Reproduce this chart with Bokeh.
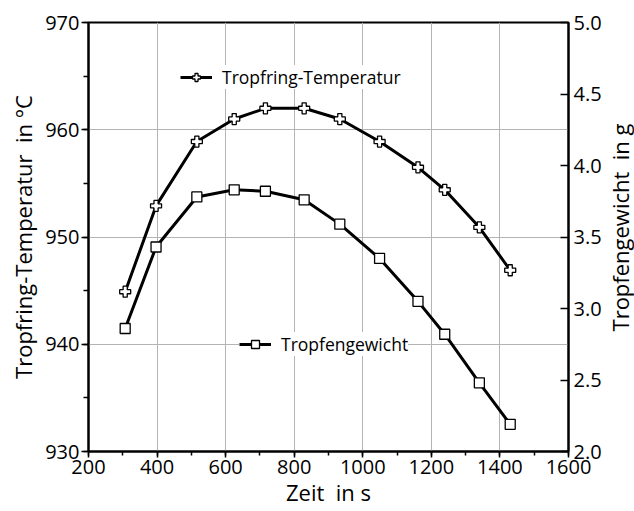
import math
from bokeh.plotting import figure
from bokeh.layouts import row
from bokeh.models import (Range1d, LinearAxis, Legend, LegendItem, SingleIntervalTicker,
                          FixedTicker, PrintfTickFormatter, Label)
from bokeh.embed import file_html
from bokeh.resources import INLINE

# Data
zeit = [307, 397, 516, 625, 716, 829, 933, 1049, 1161, 1239, 1340, 1430]
temperatur = [944.9, 952.9, 958.9, 961.0, 962.0, 962.0, 961.0, 958.9, 956.5, 954.4, 950.9, 946.9]
gewicht = [2.86, 3.43, 3.78, 3.83, 3.82, 3.76, 3.59, 3.35, 3.05, 2.82, 2.48, 2.19]

x_ticks = [200, 400, 600, 800, 1000, 1200, 1400, 1600]
left_ticks = [930, 940, 950, 960, 970]
right_ticks = [2.0, 2.5, 3.0, 3.5, 4.0, 4.5, 5.0]

FONT = "Open Sans"

p = figure(width=604, height=511, output_backend="svg", toolbar_location=None,
           x_range=Range1d(200, 1600), y_range=Range1d(930, 970),
           min_border_left=88, min_border_right=36, min_border_top=22, min_border_bottom=60)
p.extra_y_ranges = {"right": Range1d(2.0, 5.0)}

p.outline_line_color = "black"
p.outline_line_width = 2
p.outline_line_alpha = 1.0
p.background_fill_color = "white"
p.border_fill_color = "white"

# Grid
p.xgrid.ticker = FixedTicker(ticks=x_ticks)
p.ygrid.ticker = FixedTicker(ticks=left_ticks)
for g in (p.xgrid, p.ygrid):
    g.grid_line_color = "#b4b4b4"
    g.grid_line_width = 1

# X axis
xa = p.xaxis[0]
xa.ticker = SingleIntervalTicker(interval=200, num_minor_ticks=2)
xa.axis_label = "Zeit\u00a0 in s"
# Left axis
ya = p.yaxis[0]
ya.ticker = SingleIntervalTicker(interval=10, num_minor_ticks=2)
ya.axis_label = "Tropfring-Temperatur\u00a0 in °C"

# Right axis
ra = LinearAxis(y_range_name="right",
                ticker=FixedTicker(ticks=right_ticks),
                formatter=PrintfTickFormatter(format="%.1f"))
p.add_layout(ra, "right")

for ax in (xa, ya, ra):
    ax.axis_line_color = "black"
    ax.axis_line_width = 2
    ax.major_tick_line_color = "black"
    ax.major_tick_line_width = 1.5
    ax.minor_tick_line_color = "black"
    ax.minor_tick_line_width = 1.5
    ax.major_label_text_font = FONT
    ax.major_label_text_font_size = "20px"
    ax.major_label_text_color = "black"
    ax.axis_label_text_font = FONT
    ax.axis_label_text_font_size = "22px"
    ax.axis_label_text_font_style = "normal"
    ax.axis_label_text_color = "black"

xa.major_tick_in = 0
xa.major_tick_out = 6
xa.minor_tick_in = 0
xa.minor_tick_out = 4
xa.major_label_standoff = 2
xa.axis_label_standoff = 0

ya.major_tick_in = 0
ya.major_tick_out = 7
ya.minor_tick_in = 0
ya.minor_tick_out = 5
ya.major_label_standoff = 2
ya.axis_label_standoff = 4

ra.major_tick_in = 8
ra.major_tick_out = 0
ra.minor_tick_line_color = None
ra.major_label_standoff = 5

# Series
l1 = p.line(zeit, temperatur, line_color="black", line_width=3)
s1 = p.scatter(zeit, temperatur, marker="plus", size=11, fill_color="white",
               line_color="black", line_width=1.3)
l2 = p.line(zeit, gewicht, line_color="black", line_width=3, y_range_name="right")
s2 = p.scatter(zeit, gewicht, marker="square", size=10, fill_color="white",
               line_color="black", line_width=1.3, y_range_name="right")

def make_legend(label, renderers, loc):
    lg = Legend(items=[LegendItem(label=label, renderers=renderers)], location=loc)
    lg.background_fill_color = "white"
    lg.background_fill_alpha = 1.0
    lg.border_line_color = None
    lg.label_text_font = FONT
    lg.label_text_font_size = "17.5px"
    lg.label_text_color = "black"
    lg.glyph_width = 32
    lg.glyph_height = 20
    lg.label_standoff = 10
    lg.padding = 10
    lg.margin = 0
    return lg

p.add_layout(make_legend("Tropfring-Temperatur", [l1, s1], (92, 362)))
p.add_layout(make_legend("Tropfengewicht", [l2, s2], (151, 95)))

# Narrow strip on the right that carries the right axis title (reads bottom to top)
q = figure(width=30, height=511, output_backend="svg", toolbar_location=None,
           x_range=Range1d(0, 1), y_range=Range1d(0, 1),
           x_axis_type=None, y_axis_type=None,
           min_border_left=0, min_border_right=0, min_border_top=22, min_border_bottom=60)
q.outline_line_color = None
q.xgrid.visible = False
q.ygrid.visible = False
q.background_fill_color = "white"
q.border_fill_color = "white"
q.add_layout(Label(x=15, y=224, x_units="screen", y_units="screen",
                   text="Tropfengewicht\u00a0 in g", angle=math.pi / 2,
                   text_align="center", text_baseline="middle",
                   text_font=FONT, text_font_size="22px", text_color="black"))

layout = row(p, q, spacing=0)
open("out.html", "w").write(file_html(layout, INLINE))
